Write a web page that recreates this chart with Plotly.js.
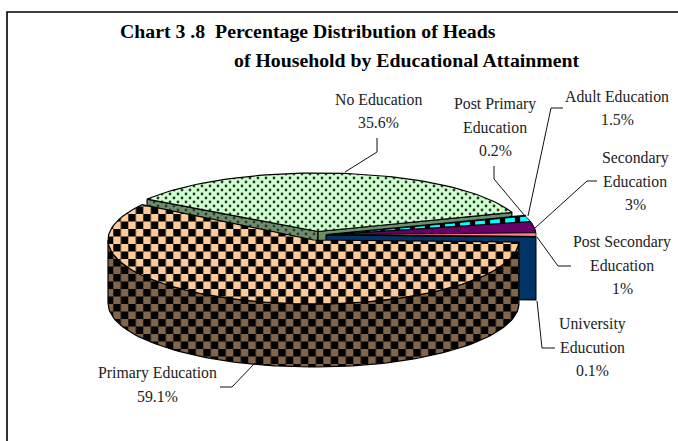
<!DOCTYPE html>
<html><head><meta charset="utf-8">
<script src="https://cdn.plot.ly/plotly-3.0.1.min.js"></script>
<style>html,body{margin:0;padding:0;background:#fff}#chart{width:678px;height:441px}</style>
</head><body><div id="chart"></div>
<script>
// ---- data ----
const categories = ['No Education','Post Primary Education','Adult Education','Secondary Education','Post Secondary Education','University Education','Primary Education'];
const values = [35.6, 0.2, 1.5, 3, 1, 0.1, 59.1];
const labelLines = [
  ['No Education','35.6%'],
  ['Post Primary','Education','0.2%'],
  ['Adult Education','1.5%'],
  ['Secondary','Education','3%'],
  ['Post Secondary','Education','1%'],
  ['University','Educution','0.1%'],
  ['Primary Education','59.1%']
];
const titleLines = ['Chart 3 .8&nbsp;&nbsp;Percentage Distribution of Heads','of Household by Educational Attainment'];

// ---- styling and layout ----
const labelAnchor = [[378,99],[495,104],[617,96],[635,158],[622,242],[592,324],[157,373]];
const labelGap = 23.3;
const leaders = [
  [[377,138],[377,152],[345,172]],
  [[494,166],[494,179],[525,216]],
  [[563,108],[551,108],[528,216]],
  [[597,181],[587,181],[535,228]],
  [[571,266],[558,266],[537,237]],
  [[555,348],[542,348],[537,301]],
  [[220,387],[232,387],[255,363]]
];
const greenDisc = {cx:318, cy:231.5, rx:205, ry:58.5, depth:64};
const smallDisc = {cx:326, cy:235, rx:210, ry:60, depth:63};
const mainDisc  = {cx:313.5, cy:240, rx:205.5, ry:64, depth:63};
const startAngle = 146.5;
const colors = {
  peach:'#FFCC99', brown:'#80654A', green:'#CCFFCC', greenWall:'#6B8F6B',
  purple:'#660066', salmon:'#FF8080', navy:'#003366', cyan:'#00FFFF', ink:'#000000'
};

// ---- angles come from the values ----
const total = values.reduce((a,b)=>a+b,0);
const edges = [startAngle];
values.forEach(v => edges.push(edges[edges.length-1] - v/total*360));

const pt = (d,a,dy) => [d.cx + d.rx*Math.cos(a*Math.PI/180), d.cy - d.ry*Math.sin(a*Math.PI/180) + (dy||0)];
function arc(d,a0,a1,dy){ const n=Math.max(2,Math.ceil(Math.abs(a1-a0)/2)), o=[];
  for(let i=0;i<=n;i++) o.push(pt(d,a0+(a1-a0)*i/n,dy)); return o; }
const wedge = (d,a0,a1) => [[d.cx,d.cy],...arc(d,a0,a1),[d.cx,d.cy]];
function poly(name,pts,fill,pattern,lw){
  const t={type:'scatter',mode:'lines',name:name,x:pts.map(p=>p[0]),y:pts.map(p=>p[1]),
    fill:'toself',fillcolor:fill,line:{color:colors.ink,width:lw===undefined?1.2:lw},hoverinfo:'name',showlegend:false};
  if(pattern) t.fillpattern=pattern;
  return t;
}
const g=greenDisc, s=smallDisc, m=mainDisc;
const dotted = bg => ({shape:'.',size:8,solidity:0.1,bgcolor:bg,fgcolor:'#333333',fgopacity:1});
const check = bg => ({shape:'+',size:15,solidity:0.5,bgcolor:bg,fgcolor:'#000000',fgopacity:1});

const traces = [];
// green slice: side faces first, then its top
const gA=pt(g,edges[0]), gB=pt(g,edges[1]), gC=[g.cx,g.cy];
traces.push(poly(categories[0]+' side',[gA,gC,[gC[0],gC[1]+g.depth],[gA[0],gA[1]+g.depth],gA],colors.greenWall,dotted(colors.greenWall)));
traces.push(poly(categories[0]+' side',[gC,gB,[gB[0],gB[1]+g.depth],[gC[0],gC[1]+g.depth],gC],colors.greenWall));
traces.push(poly(categories[0],wedge(g,edges[0],edges[1]),colors.green,dotted(colors.green)));
// cut face of the small slices
const fA=[s.cx,s.cy], fB=pt(s,edges[6]);
traces.push(poly(categories[5]+' side',[fA,fB,[fB[0],fB[1]+s.depth],[fA[0],fA[1]+s.depth],fA],colors.navy));
// small slices
traces.push(poly(categories[1],wedge(s,edges[1],edges[2]),colors.ink,null,2.2));
traces.push(poly(categories[2],wedge(s,edges[2],edges[3]),colors.cyan,{shape:'|',size:15,solidity:0.35,bgcolor:colors.cyan,fgcolor:'#000000',fgopacity:1},0.8));
traces.push(poly(categories[3],wedge(s,edges[3],edges[4]),colors.purple,null,1));
traces.push(poly(categories[4],wedge(s,edges[4],edges[5]),colors.salmon,null,0.8));
traces.push(poly(categories[5],wedge(s,edges[5],edges[6]),colors.navy,null,0.8));
// main slice: visible rim, then top
const rim = arc(m,edges[6],-180).concat(arc(m,-180,edges[6],m.depth));
rim.push(rim[0]);
traces.push(poly(categories[6]+' side',rim,colors.brown,check(colors.brown)));
traces.push(poly(categories[6],wedge(m,edges[6],edges[7]),colors.peach,check(colors.peach)));

// ---- labels ----
const annotations = [];
labelLines.forEach((lines,i)=>lines.forEach((txt,j)=>annotations.push({
  text:txt,x:labelAnchor[i][0],y:labelAnchor[i][1]+j*labelGap,xref:'x',yref:'y',
  showarrow:false,xanchor:'center',yanchor:'middle',
  font:{family:'"Liberation Serif",serif',size:15.8,color:'#222222'}})));
annotations.push({text:titleLines[1],x:232,y:60,xref:'x',yref:'y',showarrow:false,xanchor:'left',yanchor:'middle',
  font:{family:'"Liberation Serif",serif',size:19.8,color:'#000000',weight:700}});

const shapes = leaders.map(l=>({type:'path',xref:'x',yref:'y',
  path:'M'+l.map(p=>p.join(',')).join('L'),line:{color:'#111111',width:1}}));
shapes.push({type:'path',xref:'x',yref:'y',path:'M7,441L7,12L678,12',line:{color:'#000000',width:1.6}});

const layout = {
  width:678,height:441,margin:{l:0,r:0,t:0,b:0},paper_bgcolor:'#ffffff',plot_bgcolor:'#ffffff',
  showlegend:false,
  title:{text:titleLines[0],x:120/678,xref:'paper',xanchor:'left',y:1-31.5/441,yref:'paper',yanchor:'middle',
    font:{family:'"Liberation Serif",serif',size:19.8,color:'#000000',weight:700}},
  xaxis:{range:[0,678],visible:false,fixedrange:true},
  yaxis:{range:[441,0],visible:false,fixedrange:true},
  annotations:annotations,shapes:shapes
};

// Plotly has no checker fill: reshape the tile of its '+' and '.' patterns.
function retile(){
  document.querySelectorAll('#chart pattern').forEach(p=>{
    const w=parseFloat(p.getAttribute('width'));
    const c=p.querySelector('circle');
    if(c){
      c.setAttribute('cx',w/4);c.setAttribute('cy',w/4);c.setAttribute('r',1.4);
      const c2=c.cloneNode();c2.setAttribute('cx',3*w/4);c2.setAttribute('cy',3*w/4);p.appendChild(c2);
      return;
    }
    const path=p.querySelector('path');
    if(path && w===15 && (path.getAttribute('d')||'').includes('M0,')){
      const h=w/2;
      p.setAttribute('patternTransform','translate(8.3,4)');
      path.setAttribute('d','M0,0H'+h+'V'+h+'H0ZM'+h+','+h+'H'+w+'V'+w+'H'+h+'Z');
      path.setAttribute('fill','#000');path.setAttribute('stroke','none');path.setAttribute('stroke-width','0');
    }
  });
}
Plotly.newPlot('chart',traces,layout,{staticPlot:true,displayModeBar:false}).then(retile);
</script></body></html>
